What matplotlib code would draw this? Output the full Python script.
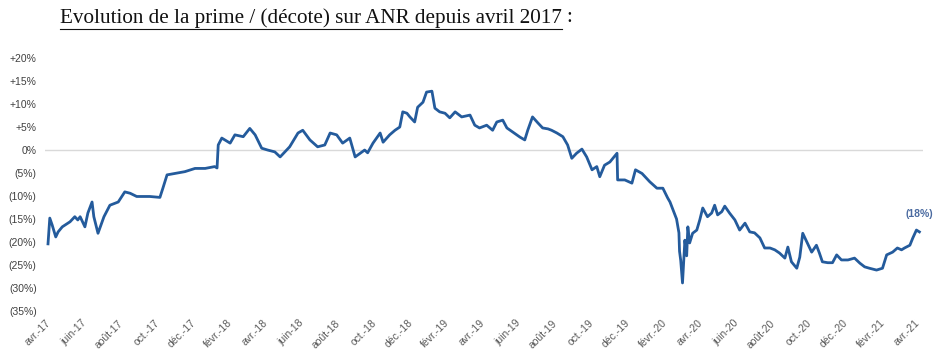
import matplotlib
matplotlib.use("Agg")
import matplotlib.pyplot as plt
import matplotlib.dates as mdates
from matplotlib.lines import Line2D
from matplotlib.ticker import FixedLocator, FuncFormatter
import pandas as pd

# prime / (décote) sur ANR, en %
dates = [
    "2017-04-06", "2017-04-09", "2017-04-13", "2017-04-19", "2017-04-23", "2017-04-30",
    "2017-05-13", "2017-05-21", "2017-05-26", "2017-05-30", "2017-06-07", "2017-06-12",
    "2017-06-19", "2017-06-22", "2017-06-29", "2017-07-04", "2017-07-09", "2017-07-19",
    "2017-08-02", "2017-08-13", "2017-08-22", "2017-09-02", "2017-09-24", "2017-10-11",
    "2017-10-16", "2017-10-23", "2017-11-05", "2017-11-22", "2017-12-09", "2017-12-26",
    "2018-01-11", "2018-01-15", "2018-01-17", "2018-01-23", "2018-02-06", "2018-02-14",
    "2018-02-28", "2018-03-11", "2018-03-20", "2018-03-31", "2018-04-10", "2018-04-22",
    "2018-05-01", "2018-05-17", "2018-05-31", "2018-06-08", "2018-06-20", "2018-07-03",
    "2018-07-15", "2018-07-24", "2018-08-04", "2018-08-14", "2018-08-26", "2018-09-04",
    "2018-09-20", "2018-09-25", "2018-10-04", "2018-10-16", "2018-10-21", "2018-11-01",
    "2018-11-10", "2018-11-18", "2018-11-23", "2018-11-30", "2018-12-05", "2018-12-13",
    "2018-12-18", "2018-12-27", "2019-01-02", "2019-01-11", "2019-01-16", "2019-01-24",
    "2019-02-02", "2019-02-10", "2019-02-19", "2019-03-02", "2019-03-16", "2019-03-24",
    "2019-04-01", "2019-04-13", "2019-04-23", "2019-04-30", "2019-05-10", "2019-05-17",
    "2019-05-27", "2019-06-08", "2019-06-16", "2019-06-21", "2019-06-29", "2019-07-08",
    "2019-07-16", "2019-07-25", "2019-07-31", "2019-08-09", "2019-08-19", "2019-08-27",
    "2019-09-03", "2019-09-11", "2019-09-20", "2019-09-28", "2019-10-07", "2019-10-15",
    "2019-10-20", "2019-10-28", "2019-11-06", "2019-11-18", "2019-11-19", "2019-12-01",
    "2019-12-13", "2019-12-19", "2019-12-30", "2020-01-12", "2020-01-24", "2020-02-03",
    "2020-02-11", "2020-02-15", "2020-02-20", "2020-02-26", "2020-03-01", "2020-03-02",
    "2020-03-04", "2020-03-07", "2020-03-11", "2020-03-14", "2020-03-16", "2020-03-19",
    "2020-03-24", "2020-03-31", "2020-04-05", "2020-04-10", "2020-04-18", "2020-04-25",
    "2020-04-30", "2020-05-05", "2020-05-12", "2020-05-17", "2020-05-25", "2020-06-03",
    "2020-06-11", "2020-06-20", "2020-06-28", "2020-07-06", "2020-07-15", "2020-07-23",
    "2020-08-01", "2020-08-09", "2020-08-17", "2020-08-26", "2020-08-31", "2020-09-06",
    "2020-09-15", "2020-09-20", "2020-09-25", "2020-10-02", "2020-10-10", "2020-10-18",
    "2020-10-23", "2020-10-28", "2020-11-06", "2020-11-14", "2020-11-21", "2020-11-29",
    "2020-12-10", "2020-12-21", "2020-12-30", "2021-01-07", "2021-01-15", "2021-01-27",
    "2021-02-06", "2021-02-13", "2021-02-23", "2021-03-03", "2021-03-10", "2021-03-15",
    "2021-03-24", "2021-03-29", "2021-04-04", "2021-04-09",
]
prime = [
    -20.4, -14.8, -16.3, -18.9, -17.8, -16.7,
    -15.6, -14.5, -15.2, -14.5, -16.7, -13.7,
    -11.3, -14.5, -18.1, -16.3, -14.5, -12.0,
    -11.3, -9.1, -9.4, -10.1, -10.1, -10.3,
    -8.3, -5.4, -5.1, -4.7, -4.0, -4.0,
    -3.6, -3.9, 1.1, 2.6, 1.5, 3.3,
    2.9, 4.7, 3.3, 0.4, 0.0, -0.4,
    -1.5, 0.7, 3.7, 4.3, 2.2, 0.7,
    1.1, 3.7, 3.3, 1.5, 2.6, -1.5,
    0.0, -0.6, 1.5, 3.7, 1.7, 3.3,
    4.3, 5.0, 8.3, 8.0, 7.2, 6.1,
    9.3, 10.4, 12.6, 12.8, 9.1, 8.3,
    8.0, 7.0, 8.3, 7.2, 7.6, 5.4,
    4.8, 5.4, 4.3, 6.1, 6.5, 4.8,
    3.9, 2.8, 2.2, 4.3, 7.2, 5.9,
    4.8, 4.6, 4.3, 3.7, 2.9, 1.1,
    -1.8, -0.7, 0.2, -1.5, -4.3, -3.6,
    -5.8, -3.3, -2.6, -0.7, -6.5, -6.5,
    -7.2, -4.3, -5.1, -6.9, -8.3, -8.3,
    -10.4, -11.3, -13.0, -15.0, -18.0, -22.0,
    -24.0, -28.9, -19.6, -23.0, -16.7, -20.2,
    -18.1, -17.4, -15.2, -12.6, -14.5, -13.7,
    -12.0, -14.1, -13.4, -12.2, -13.7, -15.2,
    -17.4, -15.9, -17.8, -18.0, -19.1, -21.3,
    -21.3, -21.7, -22.4, -23.5, -21.1, -24.3,
    -25.7, -23.3, -18.1, -20.0, -22.2, -20.7,
    -22.4, -24.3, -24.5, -24.5, -22.8, -23.9,
    -23.9, -23.5, -24.6, -25.4, -25.7, -26.1,
    -25.7, -22.8, -22.2, -21.3, -21.7, -21.3,
    -20.7, -19.1, -17.4, -17.8,
]

tick_dates = ["2017-04-01", "2017-06-01", "2017-08-01", "2017-10-01", "2017-12-01",
              "2018-02-01", "2018-04-01", "2018-06-01", "2018-08-01", "2018-10-01",
              "2018-12-01", "2019-02-01", "2019-04-01", "2019-06-01", "2019-08-01",
              "2019-10-01", "2019-12-01", "2020-02-01", "2020-04-01", "2020-06-01",
              "2020-08-01", "2020-10-01", "2020-12-01", "2021-02-01", "2021-04-01"]
tick_labels = ["avr.-17", "juin-17", "août-17", "oct.-17", "déc.-17", "févr.-18",
               "avr.-18", "juin-18", "août-18", "oct.-18", "déc.-18", "févr.-19",
               "avr.-19", "juin-19", "août-19", "oct.-19", "déc.-19", "févr.-20",
               "avr.-20", "juin-20", "août-20", "oct.-20", "déc.-20", "févr.-21",
               "avr.-21"]
y_ticks = [20, 15, 10, 5, 0, -5, -10, -15, -20, -25, -30, -35]
last_label = "(18%)"

LINE = "#245b9c"

x = pd.to_datetime(dates)

fig = plt.figure(figsize=(9.42, 3.61), dpi=100)
ax = fig.add_axes([0.0478, 0.1385, 0.932, 0.7007])

ax.axhline(0, color="#d9d9d9", lw=1.0, zorder=1)
ax.plot(x, prime, color=LINE, lw=2.0, zorder=3, solid_joinstyle="round")

ax.set_xlim(pd.Timestamp("2017-04-01"), pd.Timestamp("2021-04-15"))
ax.set_ylim(-35, 20)

ax.xaxis.set_major_locator(FixedLocator(mdates.date2num(pd.to_datetime(tick_dates))))
ax.set_xticklabels(tick_labels, rotation=45, ha="right", va="top",
                   rotation_mode="anchor", fontsize=7.5, color="#595959",
                   family="Liberation Sans")
ax.set_yticks(y_ticks)
ax.yaxis.set_major_formatter(FuncFormatter(
    lambda v, p: "0%" if v == 0 else (f"+{v:.0f}%" if v > 0 else f"({-v:.0f}%)")))
for t in ax.get_yticklabels():
    t.set_fontsize(7.5)
    t.set_color("#404040")
    t.set_family("Liberation Sans")
ax.tick_params(axis="both", length=0)
ax.tick_params(axis="y", pad=6)
ax.tick_params(axis="x", pad=5)
for s in ax.spines.values():
    s.set_visible(False)

ax.annotate(last_label, xy=(x[-1], prime[-1]), xytext=(0, 9),
            textcoords="offset points", ha="center", va="bottom",
            fontsize=7.5, fontweight="bold", color="#4a6aa0",
            family="Liberation Sans")

# titre souligné
title = fig.text(60 / 942, 1 - 18 / 361, "Evolution de la prime / (décote) sur ANR depuis avril 2017",
                 fontsize=15.2, family="Liberation Serif", color="#111111",
                 ha="left", va="center")
fig.canvas.draw()
bb = title.get_window_extent()
fig.add_artist(Line2D([bb.x0 / 942, bb.x1 / 942], [(bb.y0 - 1) / 361, (bb.y0 - 1) / 361],
                      color="#111111", lw=0.8))
fig.text((bb.x1 + 5) / 942, 1 - 18 / 361, ":", fontsize=15.2, family="Liberation Serif",
         color="#111111", ha="left", va="center")

fig.savefig("out.png", dpi=100)
